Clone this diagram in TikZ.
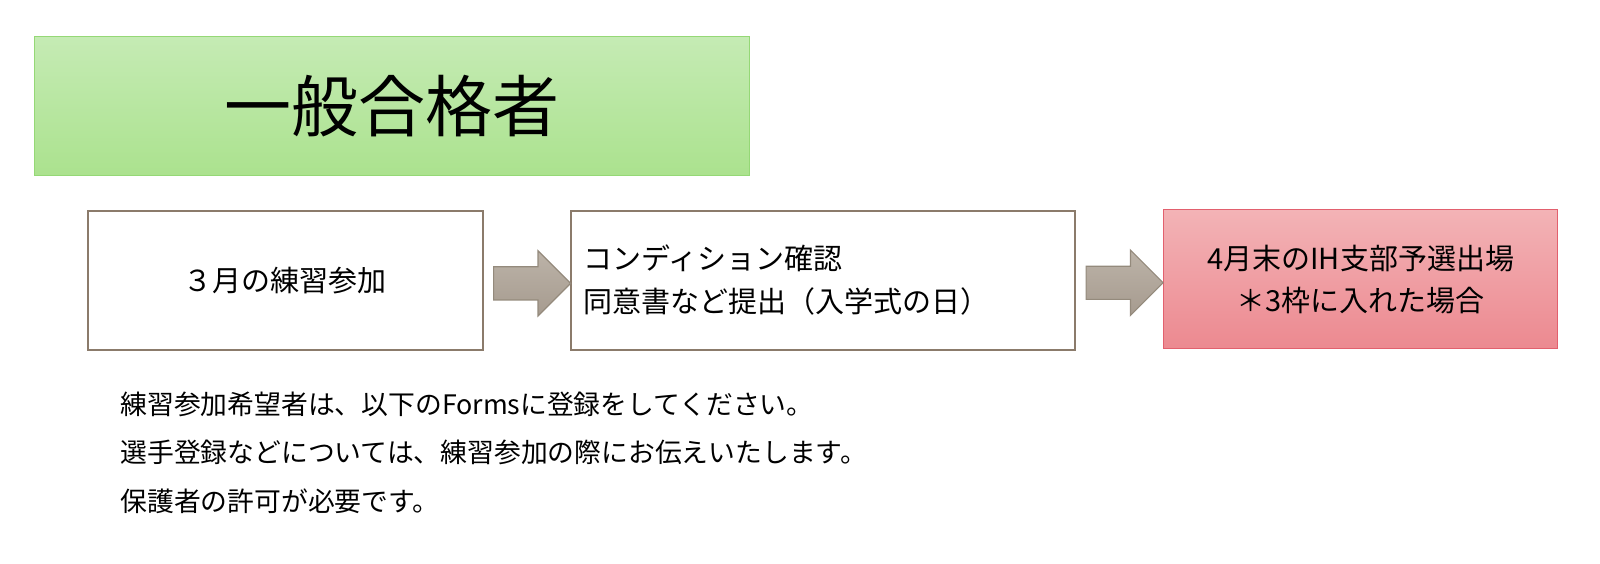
\documentclass[tikz,border=0pt]{standalone}
\usepackage{fontspec}
\setmainfont{Noto Sans CJK JP}
\usetikzlibrary{shapes.arrows,calc}
\definecolor{boxborder}{HTML}{8B7B6B}
\definecolor{arrtop}{HTML}{BCB3A8}
\definecolor{arrbot}{HTML}{A69B8F}
\definecolor{arrborder}{HTML}{948A7C}
\definecolor{grtop}{HTML}{C5EBB4}
\definecolor{grbot}{HTML}{ABE28E}
\definecolor{grborder}{HTML}{95D876}
\definecolor{rdtop}{HTML}{F3B3B6}
\definecolor{rdbot}{HTML}{EC8990}
\definecolor{rdborder}{HTML}{E2606E}
\tikzset{
  titlebox/.style={draw=grborder, line width=0.7pt, top color=grtop, bottom color=grbot,
    anchor=north west, minimum width=357.5pt, minimum height=69.5pt, inner sep=0pt,
    font=\fontsize{33.5pt}{40pt}\selectfont},
  whitebox/.style={draw=boxborder, line width=0.8pt, fill=white, anchor=north west,
    minimum height=69.5pt, inner sep=0pt, font=\fontsize{14.5pt}{21.5pt}\selectfont},
  redbox/.style={draw=rdborder, line width=0.7pt, top color=rdtop, bottom color=rdbot,
    anchor=north west, minimum height=69.5pt, inner sep=0pt, align=center,
    font=\fontsize{14.5pt}{21pt}\selectfont},
  blockarrow/.style={single arrow, draw=arrborder, line width=0.6pt, top color=arrtop,
    bottom color=arrbot, inner xsep=0pt, inner ysep=8pt, minimum height=38.5pt,
    single arrow head extend=8pt, single arrow head indent=0pt, anchor=center},
  note/.style={anchor=west, inner sep=0pt, font=\fontsize{13.4pt}{16pt}\selectfont}
}
\begin{document}
\begin{tikzpicture}[x=0.5pt,y=-0.5pt]
\useasboundingbox (0,0) rectangle (1600,563);
\node[titlebox] (title) at (34,36) {\raisebox{-1pt}{一般合格者}};
\node[whitebox, minimum width=197.5pt] (b1) at (87,210) {３月の練習参加};
\node[whitebox, minimum width=252pt, text width=239pt, inner xsep=6.5pt, align=left] (b2) at (570,210)
  {コンディション確認\\同意書など提出（入学式の日）};
\node[redbox, minimum width=197pt] (b3) at (1163,209) {4月末のIH支部予選出場\\＊3枠に入れた場合};
\node[blockarrow, yshift=-1.5pt, xshift=-1.5pt] (a1) at ($(b1.east)!0.5!(b2.west)$) {};
\node[blockarrow, yshift=-1.5pt, xshift=-1.5pt] (a2) at ($(b2.east)!0.5!(b3.west)$) {};
\node[note] (n1) at (120,404) {練習参加希望者は、以下のFormsに登録をしてください。};
\node[note] (n2) at (120,452) {選手登録などについては、練習参加の際にお伝えいたします。};
\node[note] (n3) at (120,501) {保護者の許可が必要です。};
\end{tikzpicture}
\end{document}
